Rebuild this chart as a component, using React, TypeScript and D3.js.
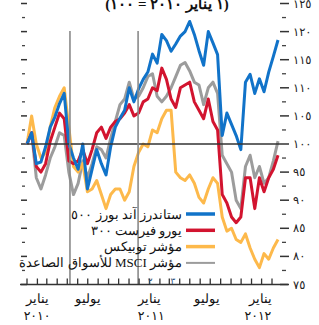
import React from "react";
import * as d3 from "d3";

// ---- data (every ~2 weeks from 1 Jan 2010, index = 100 on 1 Jan 2010) ----
const START = "2010-01-01";
const STEP_DAYS = 13.85;

const sp500 = [100, 102, 96.5, 96.8, 99.5, 103, 104.8, 107.2, 109, 100, 97.5, 95.5, 100, 92, 95.5, 99, 96.5, 94.5, 99.5, 103, 104.6, 106, 110, 107.5, 109.8, 111.5, 112.8, 116, 114.4, 119.5, 118.4, 116.5, 117.8, 119.2, 120, 121.8, 119.5, 116.6, 114, 120, 118, 115.9, 101.5, 105.5, 103.5, 101.5, 99, 111, 112.4, 109, 111.6, 109.3, 112.8, 115.6, 118.5];
const eurofirst = [100, 102, 96, 95, 96.5, 100.5, 103, 105.5, 104.5, 97, 96.5, 97, 99, 96.5, 99, 102, 103, 101, 103, 104, 104.5, 105.5, 107, 105, 105.5, 107.5, 108, 110, 109.5, 113.5, 111.5, 108, 106.5, 110, 110.5, 111, 107.5, 106, 104.5, 108, 104, 102.5, 91, 89.5, 87, 86, 87, 94, 94, 88.5, 94, 91.5, 94, 95.5, 98];
const topix = [100, 105, 100, 97.5, 98.5, 103, 106.5, 108.5, 110, 103, 96, 95, 96.5, 91.5, 92, 93.5, 91, 88.5, 91, 92, 92, 90, 91.5, 96, 98.5, 100, 99.5, 102.5, 102, 104.5, 106, 106, 95, 94, 93.5, 94.5, 93, 90.5, 89.5, 92, 94, 93, 87, 84.5, 85, 83, 82.5, 84, 81.5, 79.5, 78, 80.5, 79.5, 81.5, 83];
const msciEM = [100, 102, 94, 92, 94.5, 97.5, 99.5, 102, 101.5, 95, 91, 93, 97, 94, 96.5, 99.5, 99, 97.5, 101, 104, 107, 108, 111, 108, 108.5, 110, 112, 112.5, 108.5, 107.5, 108.5, 110, 112, 114, 114.5, 113, 111, 110.5, 107, 110, 111, 109, 98, 96.5, 95, 90, 88.5, 96, 98, 94, 96, 93, 94, 97, 100.5];

const seriesNames = ["ستاندرز آند بورز ٥٠٠", "يورو فيرست ٣٠٠", "مؤشر توبيكس", "مؤشر MSCI للأسواق الصاعدة"];
const seriesColors = ["#1173c9", "#d2142f", "#fdb94b", "#9c9c9c"];
const seriesData = [sp500, eurofirst, topix, msciEM];
const drawOrder = [3, 2, 1, 0];

const title = "(١ يناير ٢٠١٠ = ١٠٠)";
const monthLabels = ["يناير", "يوليو", "يناير", "يوليو", "يناير"];
const monthLabelDates = ["2010-01-31", "2010-07-01", "2011-01-01", "2011-06-20", "2011-11-28"];
const yearLabels = ["٢٠١٠", "٢٠١١", "٢٠١٢"];
const yearLabelDates = ["2010-01-31", "2011-01-06", "2011-11-20"];
const eventDates = ["2010-05-09", "2010-11-28"];
const eventMarks = ["٢", "٣"];
const eventMarkDates = ["2011-01-03", "2011-03-12"];
const yMajor = [75, 80, 85, 90, 95, 100, 105, 110, 115, 120, 125];
const yMinor = [77.5, 82.5, 87.5, 92.5, 97.5, 102.5, 107.5, 112.5, 117.5, 122.5];

const arabicLocale = d3.formatLocale({
  decimal: "٫",
  thousands: "",
  grouping: [3],
  currency: ["", ""],
  numerals: ["٠", "١", "٢", "٣", "٤", "٥", "٦", "٧", "٨", "٩"],
});
const fmt = arabicLocale.format("d");

export default function App() {
  const W = 319, H = 325;
  const parse = d3.utcParse("%Y-%m-%d");
  const start = parse(START)!;
  const dates = sp500.map((_, i) => new Date(start.getTime() + i * STEP_DAYS * 864e5));

  const x = d3.scaleUtc().domain([parse("2010-01-01")!, parse("2012-01-01")!]).range([27, 272]);
  const y = d3.scaleLinear().domain([75, 125]).range([284.5, 3.5]);

  const line = d3
    .line<number>()
    .x((_, i) => x(dates[i]))
    .y((d) => y(d));

  const months = d3.utcMonth.range(parse("2010-01-01")!, parse("2012-01-02")!);
  const font = "'Liberation Serif', 'DejaVu Serif', serif";

  return (
    <svg width={W} height={H} style={{ position: "absolute", left: 0, top: 0, background: "#fff" }} fontFamily={font}>
      {/* title */}
      <text x={167} y={8.5} textAnchor="middle" fontSize={15} fontWeight="bold" fill="#111" style={{ direction: "rtl" }}>
        {title}
      </text>

      {/* y ticks left & right */}
      {yMajor.map((v) => (
        <g key={"M" + v}>
          <line x1={21} x2={27} y1={y(v)} y2={y(v)} stroke="#333" strokeWidth={1.5} />
          <line x1={280} x2={289} y1={y(v)} y2={y(v)} stroke="#333" strokeWidth={1.5} />
          <text x={293} y={y(v) + 4} fontSize={11.5} fill="#222" fontFamily="'DejaVu Sans', sans-serif">
            {fmt(v)}
          </text>
        </g>
      ))}
      {yMinor.map((v) => (
        <g key={"m" + v}>
          <line x1={22} x2={25} y1={y(v)} y2={y(v)} stroke="#444" strokeWidth={1.3} />
          <line x1={282} x2={286} y1={y(v)} y2={y(v)} stroke="#444" strokeWidth={1.3} />
        </g>
      ))}

      {/* series */}
      {drawOrder.map((k) => (
        <path
          key={k}
          d={line(seriesData[k]) || ""}
          fill="none"
          stroke={seriesColors[k]}
          strokeWidth={3}
          strokeLinejoin="round"
        />
      ))}

      {/* 100 reference line */}
      <line x1={27} x2={280} y1={y(100)} y2={y(100)} stroke="#333" strokeWidth={1.6} />

      {/* event lines */}
      {eventDates.map((d) => (
        <line key={d} x1={x(parse(d)!)} x2={x(parse(d)!)} y1={31} y2={y(75)} stroke="#8a8a8a" strokeWidth={1.6} />
      ))}

      {/* legend */}
      {seriesNames.map((n, i) => (
        <g key={n}>
          <line x1={186} x2={215} y1={214 + i * 16.3} y2={214 + i * 16.3} stroke={seriesColors[i]} strokeWidth={i === 3 ? 2 : 3.5} />
          <text x={182} y={218.5 + i * 16.3} fontSize={13} fill="#111" textAnchor="start" style={{ direction: "rtl" }}>
            {n}
          </text>
        </g>
      ))}

      {/* x axis */}
      <line x1={20} x2={288} y1={y(75)} y2={y(75)} stroke="#333" strokeWidth={1.5} />
      {months.map((m) => (
        <line key={+m} x1={x(m)} x2={x(m)} y1={y(75) - 6} y2={y(75)} stroke="#333" strokeWidth={1.3} />
      ))}
      {eventMarks.map((t, i) => (
        <text key={t} x={x(parse(eventMarkDates[i])!)} y={y(75) - 1} fontSize={9} textAnchor="middle" fill="#2b4f7a" fontFamily="'DejaVu Sans', sans-serif">
          {t}
        </text>
      ))}
      {monthLabels.map((t, i) => (
        <text key={i} x={x(parse(monthLabelDates[i])!)} y={303} fontSize={12.5} textAnchor="middle" fill="#111">
          {t}
        </text>
      ))}
      {yearLabels.map((t, i) => (
        <text key={t} x={x(parse(yearLabelDates[i])!)} y={320} fontSize={12.5} textAnchor="middle" fill="#111" fontFamily="'DejaVu Sans', sans-serif">
          {t}
        </text>
      ))}
    </svg>
  );
}
